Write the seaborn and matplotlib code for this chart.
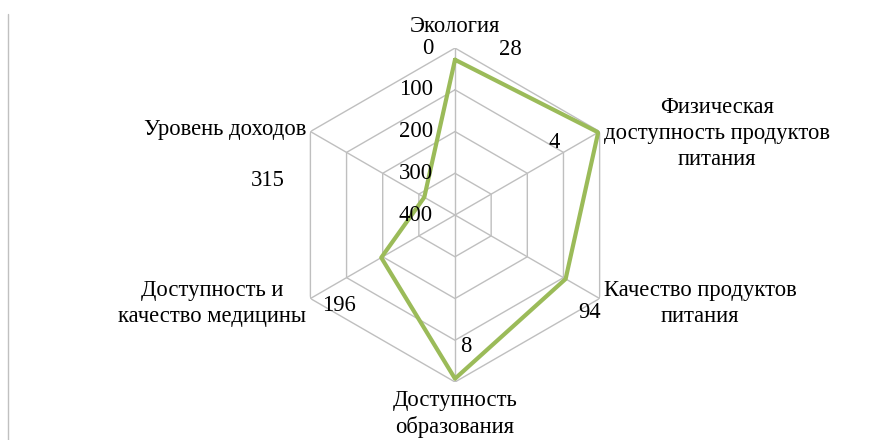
import matplotlib
import matplotlib.pyplot as plt
import numpy as np
import pandas as pd
import seaborn as sns

matplotlib.use("agg")
sns.set_theme(style="white")
plt.rcParams["font.family"] = ["Liberation Serif", "DejaVu Serif"]

categories = [
    "Экология",
    "Физическая\nдоступность продуктов\nпитания",
    "Качество продуктов\nпитания",
    "Доступность\nобразования",
    "Доступность и\nкачество медицины",
    "Уровень доходов",
]
values = [28, 4, 94, 8, 196, 315]
ring_levels = [0, 100, 200, 300, 400]
ring_labels = ["0", "100", "200", "300", "400"]

GRID = "#bfbfbf"
LINE = "#9bbb59"
FS = 16.3

fig = plt.figure(figsize=(8.9, 4.4), dpi=100)
fig.patch.set_facecolor("white")
ax = fig.add_axes([0.3236, 0.1318, 0.3753, 0.759], projection="polar")
ax.set_theta_zero_location("N")
ax.set_theta_direction(-1)
ax.set_ylim(400, 0)
ax.grid(False)
ax.spines["polar"].set_visible(False)
ax.set_xticks([])
ax.set_yticks([])
ax.set_facecolor("none")

n = len(categories)
theta = np.arange(n) * 2 * np.pi / n
theta_closed = np.append(theta, 2 * np.pi)

# hexagonal grid
for lvl in ring_levels[:-1]:
    ax.plot(theta_closed, [lvl] * (n + 1), color=GRID, lw=1, zorder=1)
for t in theta:
    ax.plot([t, t], [ring_levels[-1], ring_levels[0]], color=GRID, lw=1, zorder=1)

# data (closed polygon)
df = pd.DataFrame({"theta": theta_closed, "value": values + values[:1]})
sns.lineplot(data=df, x="theta", y="value", sort=False, estimator=None, ax=ax,
             color=LINE, lw=3, zorder=3)
ax.set_xlabel("")
ax.set_ylabel("")

# radial tick labels
for lvl, lab in zip(ring_levels, ring_labels):
    ax.annotate(lab, xy=(0, lvl), xytext=(-22, 0), textcoords="offset pixels",
                ha="right", va="center", fontsize=FS, color="black")

# category labels
cat_offsets = [(0, 22), (4, -2), (4, -5), (0, -8), (-4, -5), (-4, 2)]
cat_align = [("center", "center"), ("left", "center"), ("left", "center"),
             ("center", "top"), ("right", "center"), ("right", "center")]
for t, lab, off, (ha, va) in zip(theta, categories, cat_offsets, cat_align):
    ax.annotate(lab, xy=(t, 0), xytext=off, textcoords="offset pixels",
                ha=ha, va=va, fontsize=FS, color="black", multialignment="center",
                linespacing=1.3, annotation_clip=False)

# data labels
val_offsets = [(55, 10), (-44, -10), (24, -34), (11, 32), (-42, -48), (-157, 17)]
for t, v, off in zip(theta, values, val_offsets):
    ax.annotate(str(v), xy=(t, v), xytext=off, textcoords="offset pixels",
                ha="center", va="center", fontsize=FS, color="black", annotation_clip=False)

# chart border on the left
fig.add_artist(plt.Line2D([8 / 890, 8 / 890], [0, 1 - 14 / 440], color="#c0c0c0", lw=1,
                          transform=fig.transFigure))

fig.savefig("out.png", dpi=100)
plt.close()
